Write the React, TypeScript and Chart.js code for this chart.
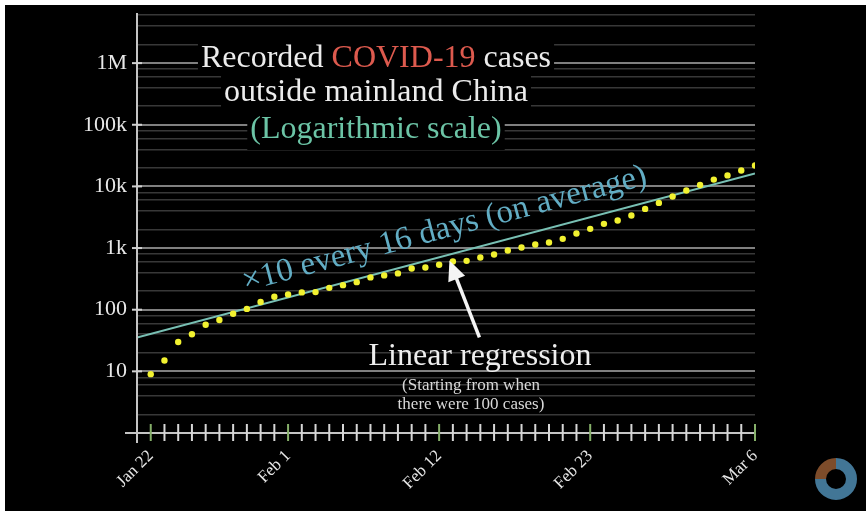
import React, { useEffect, useRef } from 'react';
import { Chart, registerables } from 'chart.js';

Chart.register(...registerables);

// ---- data ----
const caseDates = [
  'Jan 22', 'Jan 23', 'Jan 24', 'Jan 25', 'Jan 26', 'Jan 27', 'Jan 28', 'Jan 29', 'Jan 30', 'Jan 31',
  'Feb 1', 'Feb 2', 'Feb 3', 'Feb 4', 'Feb 5', 'Feb 6', 'Feb 7', 'Feb 8', 'Feb 9', 'Feb 10',
  'Feb 11', 'Feb 12', 'Feb 13', 'Feb 14', 'Feb 15', 'Feb 16', 'Feb 17', 'Feb 18', 'Feb 19', 'Feb 20',
  'Feb 21', 'Feb 22', 'Feb 23', 'Feb 24', 'Feb 25', 'Feb 26', 'Feb 27', 'Feb 28', 'Feb 29', 'Mar 1',
  'Mar 2', 'Mar 3', 'Mar 4', 'Mar 5', 'Mar 6',
];
const cases = [
  9, 15, 30, 40, 57, 68, 86, 103, 133, 162,
  177, 191, 193, 226, 250, 280, 334, 360, 388, 467,
  485, 535, 604, 620, 703, 787, 913, 1023, 1143, 1232,
  1410, 1725, 2050, 2470, 2800, 3375, 4320, 5400, 6860, 8590,
  10570, 12900, 15100, 18100, 21800,
];
// day index 0 = Jan 21 (axis origin)
const regressionDays = [0, 45];
const regressionValues = [35.4, 16200];

const xTickLabels = ['Jan 22', 'Feb 1', 'Feb 12', 'Feb 23', 'Mar 6'];
const yTickValues = [10, 100, 1000, 10000, 100000, 1000000];
const yTickLabels = ['10', '100', '1k', '10k', '100k', '1M'];
const yMinorMultipliers = [2, 4, 6, 8];

const FONT = '"Liberation Serif", "Times New Roman", serif';

function dayOf(label: string) {
  return caseDates.indexOf(label) + 1;
}

const overlayPlugin = {
  id: 'overlay',
  afterDraw(chart: any) {
    const ctx: CanvasRenderingContext2D = chart.ctx;
    const xs = chart.scales.x;
    const ys = chart.scales.y;
    const ca = chart.chartArea;
    ctx.save();

    // axis lines
    ctx.lineWidth = 2;
    ctx.strokeStyle = '#c4c4c4';
    ctx.beginPath();
    ctx.moveTo(ca.left, ca.top);
    ctx.lineTo(ca.left, ca.bottom + 10);
    ctx.stroke();
    ctx.beginPath();
    ctx.moveTo(ca.left - 12, ca.bottom);
    ctx.lineTo(ca.right, ca.bottom);
    ctx.stroke();

    // x tick marks (every day)
    const labeledDays = xTickLabels.map(dayOf);
    for (let d = 1; d <= caseDates.length; d++) {
      const x = xs.getPixelForValue(d);
      ctx.strokeStyle = labeledDays.includes(d) ? '#86b06a' : '#d6d6d6';
      ctx.beginPath();
      ctx.moveTo(x, ca.bottom - 9);
      ctx.lineTo(x, ca.bottom + 8);
      ctx.stroke();
    }
    // y tick marks
    ctx.strokeStyle = '#d0d0d0';
    for (const v of yTickValues) {
      const y = ys.getPixelForValue(v);
      ctx.beginPath();
      ctx.moveTo(ca.left - 5, y);
      ctx.lineTo(ca.left + 5, y);
      ctx.stroke();
    }

    // title block with black backing
    const cx = ca.left + 239;
    const drawLine = (parts: [string, string][], baseline: number, top: number, bottom: number) => {
      ctx.font = `32px ${FONT}`;
      const widths = parts.map((p) => ctx.measureText(p[0]).width);
      const total = widths.reduce((a, b) => a + b, 0);
      let x = cx - total / 2;
      ctx.fillStyle = '#000';
      ctx.fillRect(x - 3, top, total + 6, bottom - top);
      ctx.textAlign = 'left';
      ctx.textBaseline = 'alphabetic';
      parts.forEach((p, i) => {
        ctx.fillStyle = p[1];
        ctx.fillText(p[0], x, baseline);
        x += widths[i];
      });
    };
    const t0 = ca.top;
    drawLine([['Recorded ', '#ececec'], ['COVID-19', '#dd5a4e'], [' cases', '#ececec']], t0 + 54, t0 + 27, t0 + 63);
    drawLine([['outside mainland China', '#ececec']], t0 + 88, t0 + 63, t0 + 99);
    drawLine([['(Logarithmic scale)', '#6cc4a6']], t0 + 125, t0 + 99, t0 + 137);

    // rotated annotation along regression line
    const x0 = xs.getPixelForValue(regressionDays[0]);
    const y0 = ys.getPixelForValue(regressionValues[0]);
    const x1 = xs.getPixelForValue(regressionDays[1]);
    const y1 = ys.getPixelForValue(regressionValues[1]);
    const ang = Math.atan2(y1 - y0, x1 - x0);
    const ax = xs.getPixelForValue(8.2);
    const ay = y0 + (y1 - y0) * ((ax - x0) / (x1 - x0));
    ctx.save();
    ctx.translate(ax, ay);
    ctx.rotate(ang);
    ctx.font = `33px ${FONT}`;
    ctx.fillStyle = '#62adc4';
    ctx.textAlign = 'left';
    ctx.textBaseline = 'alphabetic';
    ctx.fillText('\u00d710 every 16 days (on average)', 0, -17);
    ctx.restore();

    // arrow
    const tipX = xs.getPixelForValue(22.75);
    const tipY = ys.getPixelForValue(630);
    const tailX = tipX + 30;
    const tailY = tipY + 77;
    const a = Math.atan2(tipY - tailY, tipX - tailX);
    const headLen = 20;
    const headHalf = 9;
    ctx.strokeStyle = '#f4f4f4';
    ctx.fillStyle = '#f4f4f4';
    ctx.lineWidth = 3.5;
    ctx.beginPath();
    ctx.moveTo(tailX, tailY);
    ctx.lineTo(tipX - Math.cos(a) * headLen * 0.8, tipY - Math.sin(a) * headLen * 0.8);
    ctx.stroke();
    ctx.beginPath();
    ctx.moveTo(tipX, tipY);
    ctx.lineTo(
      tipX - Math.cos(a) * headLen + Math.sin(a) * headHalf,
      tipY - Math.sin(a) * headLen - Math.cos(a) * headHalf
    );
    ctx.lineTo(
      tipX - Math.cos(a) * headLen - Math.sin(a) * headHalf,
      tipY - Math.sin(a) * headLen + Math.cos(a) * headHalf
    );
    ctx.closePath();
    ctx.fill();

    // "Linear regression" caption
    ctx.textAlign = 'center';
    ctx.textBaseline = 'alphabetic';
    ctx.font = `32px ${FONT}`;
    ctx.fillStyle = '#eeeeee';
    ctx.fillText('Linear regression', ca.left + 343, ca.top + 352);
    ctx.font = `17px ${FONT}`;
    ctx.fillStyle = '#d8d8d8';
    ctx.fillText('(Starting from when', ca.left + 334, ca.top + 377);
    ctx.fillText('there were 100 cases)', ca.left + 334, ca.top + 396);

    // corner ring decoration
    const rx = 831;
    const ry = 474;
    ctx.lineWidth = 11;
    ctx.strokeStyle = 'rgb(66,118,150)';
    ctx.beginPath();
    ctx.arc(rx, ry, 15.5, -Math.PI / 2, Math.PI);
    ctx.stroke();
    ctx.strokeStyle = 'rgb(125,76,42)';
    ctx.beginPath();
    ctx.arc(rx, ry, 15.5, Math.PI, Math.PI * 1.5);
    ctx.stroke();

    ctx.restore();
  },
};

export default function App() {
  const ref = useRef<HTMLCanvasElement | null>(null);

  useEffect(() => {
    const canvas = ref.current;
    if (!canvas) return;

    const yTicks: number[] = [];
    for (let k = 0; k <= 6; k++) {
      const p = Math.pow(10, k);
      yTicks.push(p);
      for (const m of yMinorMultipliers) {
        if (m * p <= 6.5e6) yTicks.push(m * p);
      }
    }
    const isMajor = (v: number) => {
      const l = Math.log10(v);
      return Math.abs(l - Math.round(l)) < 1e-9;
    };
    const labeledDays = xTickLabels.map(dayOf);

    const chart = new Chart(canvas, {
      type: 'scatter',
      data: {
        datasets: [
          {
            label: 'Cases',
            data: cases.map((v, i) => ({ x: dayOf(caseDates[i]), y: v })),
            backgroundColor: '#f2f230',
            borderColor: '#f2f230',
            pointRadius: 3.2,
            pointBorderWidth: 0,
            showLine: false,
          },
          {
            label: 'Regression',
            data: regressionDays.map((d, i) => ({ x: d, y: regressionValues[i] })),
            borderColor: '#78c0b4',
            borderWidth: 2,
            pointRadius: 0,
            showLine: true,
            fill: false,
          },
        ],
      },
      options: {
        responsive: false,
        animation: false,
        devicePixelRatio: 1,
        layout: { padding: { top: 8, right: 111, left: 0, bottom: 0 } },
        plugins: {
          legend: { display: false },
          tooltip: { enabled: false },
        },
        scales: {
          x: {
            type: 'linear',
            min: 0,
            max: 45,
            afterFit: (s: any) => {
              s.height = 78;
              s.paddingLeft = 0;
              s.paddingRight = 0;
            },
            grid: {
              display: true,
              drawOnChartArea: false,
              drawTicks: true,
              tickLength: 8,
              color: 'rgba(0,0,0,0)',
            },
            border: { display: false },
            ticks: {
              stepSize: 1,
              autoSkip: false,
              minRotation: 45,
              maxRotation: 45,
              padding: 5,
              color: '#e6e6e6',
              font: { family: FONT, size: 17 },
              callback: (v: any) => {
                const idx = labeledDays.indexOf(Number(v));
                return idx >= 0 ? xTickLabels[idx] : '';
              },
            },
          },
          y: {
            type: 'logarithmic',
            min: 1,
            max: 6.5e6,
            afterBuildTicks: (s: any) => {
              s.ticks = yTicks.map((v) => ({ value: v }));
            },
            afterFit: (s: any) => {
              s.width = 132;
              s.paddingTop = 0;
              s.paddingBottom = 0;
            },
            grid: {
              display: true,
              drawTicks: true,
              tickLength: 5,
              tickColor: 'rgba(0,0,0,0)',
              color: (c: any) =>
                c.tick && isMajor(c.tick.value) ? 'rgba(255,255,255,0.5)' : 'rgba(255,255,255,0.22)',
              lineWidth: (c: any) => (c.tick && isMajor(c.tick.value) ? 2 : 1.5),
            },
            border: { display: false },
            ticks: {
              autoSkip: false,
              padding: 5,
              color: '#e8e8e8',
              font: { family: FONT, size: 22 },
              callback: (v: any) => {
                const idx = yTickValues.indexOf(Number(v));
                return idx >= 0 ? yTickLabels[idx] : '';
              },
            },
          },
        },
      },
      plugins: [overlayPlugin],
    } as any);

    return () => chart.destroy();
  }, []);

  return (
    <div
      style={{
        position: 'fixed',
        left: 5,
        top: 5,
        width: 861,
        height: 506,
        background: '#000',
      }}
    >
      <canvas ref={ref} width={861} height={506} style={{ width: 861, height: 506, display: 'block' }} />
    </div>
  );
}
